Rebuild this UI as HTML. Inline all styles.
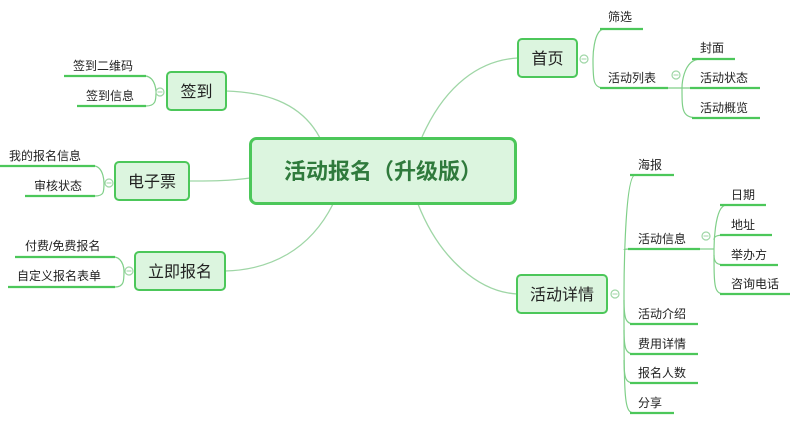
<!DOCTYPE html>
<html><head><meta charset="utf-8"><style>
html,body{margin:0;padding:0;background:#fff;}
svg{display:block;}
text{font-family:"Liberation Sans","Noto Sans CJK SC",sans-serif;fill:#222;}
</style></head><body>
<svg width="800" height="421" viewBox="0 0 800 421" xmlns="http://www.w3.org/2000/svg">
<g fill="none" stroke="#9fd6a6" stroke-width="1.3">
<path d="M320,138 C300,100 260,92 226,91"/>
<path d="M250,178 C230,181 210,181 189,181"/>
<path d="M333,204 C310,250 270,270 225,271"/>
<path d="M422,137 C445,85 480,60 518,58"/>
<path d="M418,204 C440,260 480,292 517,294"/>
</g>
<!-- brackets (thin) -->
<g fill="none" stroke="#7fcf88" stroke-width="1.2">
<path d="M146,76 C156,78 156,92 156,92 C156,100 156,106 146,106"/>
<path d="M95,166 C104,168 104,183 104,183 C104,192 104,196 95,196"/>
<path d="M115,257 C124,259 124,271 124,271 C124,281 124,287 115,287"/>
<path d="M604,29 C593,30 593,59 593,59 C593,80 593,88 604,88"/>
<path d="M700,59 C682,60 682,88 682,88 C682,112 682,118 700,118"/>
<path d="M635,175 C624,176 624,294 624,294 C624,405 624,413 635,413"/>
<path d="M624,250 C624,249 628,249 635,249"/>
<path d="M624,300 C624,320 626,324 635,324"/>
<path d="M624,330 C624,350 626,354 635,354"/>
<path d="M624,360 C624,380 626,383 635,383"/>
<path d="M726,205 C714,206 714,249 714,249 C714,290 714,294 726,294"/>
<path d="M714,240 C714,236 717,235 726,235"/>
<path d="M714,255 C714,263 717,265 726,265"/>
<line x1="668" y1="88" x2="690" y2="88"/>
<line x1="700" y1="249" x2="714" y2="249"/>
</g>
<!-- underlines -->
<g fill="none" stroke="#4cc75a" stroke-width="2.2">
<line x1="64" y1="76" x2="146" y2="76"/><line x1="77" y1="106" x2="146" y2="106"/>
<line x1="0" y1="166" x2="95" y2="166"/><line x1="25" y1="196" x2="95" y2="196"/>
<line x1="15" y1="257" x2="115" y2="257"/><line x1="8" y1="287" x2="115" y2="287"/>
<line x1="600" y1="29" x2="643" y2="29"/><line x1="600" y1="88" x2="668" y2="88"/>
<line x1="692" y1="59" x2="735" y2="59"/><line x1="690" y1="88" x2="760" y2="88"/><line x1="692" y1="118" x2="760" y2="118"/>
<line x1="630" y1="175" x2="674" y2="175"/><line x1="628" y1="249" x2="700" y2="249"/>
<line x1="630" y1="324" x2="698" y2="324"/><line x1="630" y1="354" x2="698" y2="354"/>
<line x1="630" y1="383" x2="698" y2="383"/><line x1="630" y1="413" x2="674" y2="413"/>
<line x1="720" y1="205" x2="766" y2="205"/><line x1="720" y1="235" x2="772" y2="235"/>
<line x1="720" y1="265" x2="778" y2="265"/><line x1="720" y1="294" x2="790" y2="294"/>
</g>
<g fill="#fff" stroke="#9fd6a6" stroke-width="1.2">
<circle cx="160" cy="92" r="4"/><circle cx="109" cy="183" r="4"/><circle cx="129" cy="271" r="4"/>
<circle cx="584" cy="59" r="4"/><circle cx="676" cy="75" r="4"/><circle cx="615" cy="294" r="4"/><circle cx="706" cy="236" r="4"/>
</g>
<g stroke="#9fd6a6" stroke-width="1"><line x1="157.5" y1="92" x2="162.5" y2="92"/><line x1="106.5" y1="183" x2="111.5" y2="183"/><line x1="126.5" y1="271" x2="131.5" y2="271"/><line x1="581.5" y1="59" x2="586.5" y2="59"/><line x1="673.5" y1="75" x2="678.5" y2="75"/><line x1="612.5" y1="294" x2="617.5" y2="294"/><line x1="703.5" y1="236" x2="708.5" y2="236"/></g>
<rect x="250.5" y="138.5" width="265" height="65" rx="6" fill="#dcf5df" stroke="#4cc75a" stroke-width="3"/>
<text x="383" y="179" font-size="22" font-weight="bold" text-anchor="middle" style="fill:#2f7a3c">活动报名（升级版）</text>
<g fill="#dcf5df" stroke="#4cc75a" stroke-width="2">
<rect x="167" y="72" width="59" height="38" rx="4"/>
<rect x="115" y="162" width="74" height="38" rx="4"/>
<rect x="135" y="252" width="90" height="38" rx="4"/>
<rect x="518" y="39" width="59" height="38" rx="4"/>
<rect x="517" y="275" width="90" height="38" rx="4"/>
</g>
<g font-size="16" text-anchor="middle">
<text x="196.5" y="97">签到</text>
<text x="152" y="187">电子票</text>
<text x="180" y="277">立即报名</text>
<text x="547.5" y="64">首页</text>
<text x="562" y="300">活动详情</text>
</g>
<g font-size="12">
<text x="73" y="70">签到二维码</text>
<text x="86" y="100">签到信息</text>
<text x="9" y="160">我的报名信息</text>
<text x="34" y="190">审核状态</text>
<text x="25" y="250">付费/免费报名</text>
<text x="17" y="280">自定义报名表单</text>
<text x="608" y="21">筛选</text>
<text x="608" y="82">活动列表</text>
<text x="700" y="52">封面</text>
<text x="700" y="82">活动状态</text>
<text x="700" y="112">活动概览</text>
<text x="638" y="169">海报</text>
<text x="638" y="243">活动信息</text>
<text x="638" y="318">活动介绍</text>
<text x="638" y="348">费用详情</text>
<text x="638" y="377">报名人数</text>
<text x="638" y="407">分享</text>
<text x="731" y="199">日期</text>
<text x="731" y="229">地址</text>
<text x="731" y="259">举办方</text>
<text x="731" y="288">咨询电话</text>
</g>
</svg>
</body></html>
